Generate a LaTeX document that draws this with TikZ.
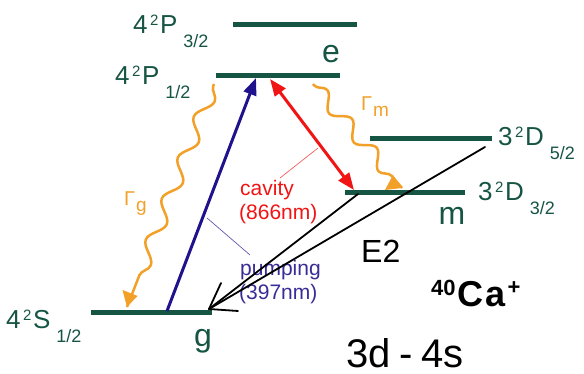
\documentclass[tikz,border=0pt]{standalone}
\usepackage{fontspec}
\setmainfont{Liberation Sans}
\usetikzlibrary{arrows.meta,decorations.pathmorphing}
\definecolor{teal}{RGB}{22,84,68}
\definecolor{orng}{RGB}{242,160,40}
\definecolor{blu}{RGB}{32,18,140}
\definecolor{rd}{RGB}{240,20,20}
\definecolor{blutxt}{RGB}{55,45,150}
\newcommand{\fs}[1]{\fontsize{#1}{#1}\selectfont}
% #1 digit, #2 superscript, #3 letter, #4 subscript
\newcommand{\lvl}[4]{{\fs{26}#1}\hspace{2.5pt}\raisebox{8pt}{\fs{15}#2}\hspace{1.5pt}{\fs{26}#3}\hspace{6pt}\raisebox{-14pt}{\fs{18}#4}}
\tikzset{
  level/.style={draw=teal, line width=5pt},
  lbl/.style={inner sep=0pt, text=teal},
  wavy/.style={draw=orng, line width=2.5pt, decorate,
    decoration={snake, amplitude=7pt, segment length=#1, post length=14pt, pre length=2pt}},
  bigtip/.style={-{Triangle[length=17pt,width=13pt]}},
  hand/.style={draw=black, line width=1.8pt, line cap=round, line join=round},
}
\begin{document}
\begin{tikzpicture}[x=1pt,y=-1pt]
\useasboundingbox (0,0) rectangle (584,374);
% levels
\coordinate (p3a) at (233,25); \coordinate (p3b) at (357,25);
\coordinate (p1a) at (216,76); \coordinate (p1b) at (340,76);
\coordinate (d5a) at (370,139); \coordinate (d5b) at (492,139);
\coordinate (d3a) at (345,193); \coordinate (d3b) at (465,193);
\coordinate (sa) at (91,312); \coordinate (sb) at (212,312);
\draw[level] (p3a) -- (p3b);
\draw[level] (p1a) -- (p1b);
\draw[level] (d5a) -- (d5b);
\draw[level] (d3a) -- (d3b);
\draw[level] (sa) -- (sb);
% level labels
\node[lbl, anchor=base west] (lp3) at (133,34) {\lvl{4}{2}{P}{3/2}};
\node[lbl, anchor=base west] (lp1) at (115,85) {\lvl{4}{2}{P}{1/2}};
\node[lbl, anchor=base west] (ld5) at (498,146) {\lvl{3}{2}{D}{5/2}};
\node[lbl, anchor=base west] (ld3) at (478,201) {\lvl{3}{2}{D}{3/2}};
\node[lbl, anchor=base west] (ls) at (6,328) {\lvl{4}{2}{S}{1/2}};
\node[lbl, anchor=base] (le) at (331,63) {\fs{32}e};
\node[lbl, anchor=base] (lm) at (452,225) {\fs{32}m};
\node[lbl, anchor=base] (lg) at (203,346) {\fs{32}g};
% pumping arrow
\coordinate (pumpS) at (167,311); \coordinate (pumpE) at (256,78);
\draw[blu, line width=3pt, bigtip] (pumpS) -- (pumpE);
% cavity arrow
\coordinate (cavT) at (270,79); \coordinate (cavB) at (354,190);
\draw[rd, line width=3pt, {Triangle[length=17pt,width=13pt]}-{Triangle[length=17pt,width=13pt]}] (cavT) -- (cavB);
% decays
\coordinate (gA) at (214,84); \coordinate (gB) at (127,307);
\draw[wavy=44pt] (gA) -- (gB);
\fill[orng] (gB) -- ++(-4.5,-17) -- ++(15,6) -- cycle;
\coordinate (mA) at (313,84); \coordinate (mB) at (402,188);
\draw[wavy=38pt] (mA) -- (mB);
\fill[orng] (mB) -- ++(-17,2) -- ++(8,-15) -- cycle;
% rate labels
\node[anchor=base west, inner sep=0pt, text=orng] (Gg) at (124,206) {\fs{20}Γ\hspace{1pt}\raisebox{-6pt}{\fs{19}g}};
\node[anchor=base west, inner sep=0pt, text=orng] (Gm) at (361,111) {\fs{20}Γ\hspace{1pt}\raisebox{-6pt}{\fs{19}m}};
% text labels
\node[anchor=base west, inner sep=0pt, text=rd] (cav) at (240,196) {\fs{21}cavity};
\node[anchor=base west, inner sep=0pt, text=rd] (cav2) at (239,220) {\fs{21}(866nm)};
\node[anchor=base west, inner sep=0pt, text=blutxt] (pmp) at (240,276) {\fs{21}pumping};
\node[anchor=base west, inner sep=0pt, text=blutxt] (pmp2) at (239,300) {\fs{21}(397nm)};
% pointer lines
\coordinate (rl1) at (318,148); \coordinate (rl2) at (280,178);
\draw[rd!70, line width=0.7pt] (rl1) -- (rl2);
\coordinate (bl1) at (207,218); \coordinate (bl2) at (250,255);
\draw[blu!70, line width=0.7pt] (bl1) -- (bl2);
% Ca label
\node[anchor=base west, inner sep=0pt] (ca) at (431,306) {\fs{36}\bfseries\raisebox{11pt}{\fs{22}\bfseries 40}\hspace{2pt}C\hspace{2pt}a\hspace{2pt}\raisebox{12pt}{\fs{22}\bfseries +}};
% handwritten annotations
\coordinate (h1) at (358,194); \coordinate (h2) at (485,147);
\coordinate (tip) at (209,309);
\coordinate (hh1) at (221,283); \coordinate (hh2) at (238,311);
\draw[hand] (h1) -- (tip);
\draw[hand] (h2) -- (tip);
\draw[hand] (hh1) -- (tip) -- (hh2);
\node[anchor=base west, inner sep=0pt, text depth=0pt] (e2) at (361,262) {\fs{32}E2};
\node[anchor=base west, inner sep=0pt, text depth=0pt] (sd) at (346,367) {\fs{40}3d\hspace{9pt}-\hspace{8pt}4s};
\end{tikzpicture}
\end{document}
